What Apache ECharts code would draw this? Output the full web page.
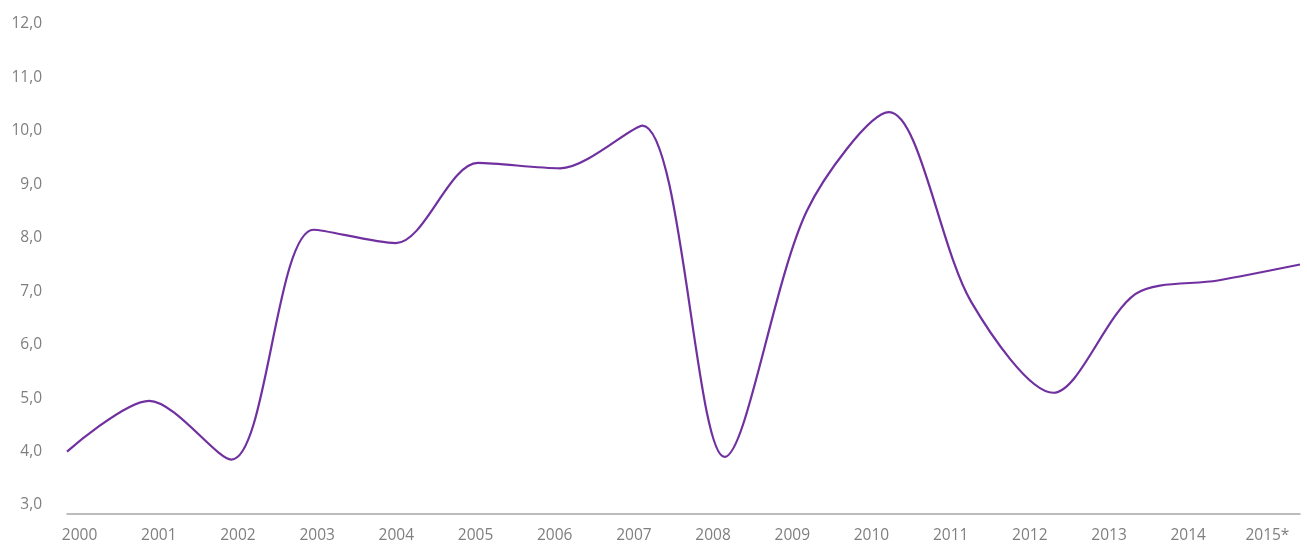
<!DOCTYPE html>
<html>
<head>
<meta charset="utf-8">
<script src="https://cdn.jsdelivr.net/npm/echarts@6/dist/echarts.min.js"></script>
<style>
html,body{margin:0;padding:0;background:#fff;}
#chart{width:1307px;height:544px;}
</style>
</head>
<body>
<div id="chart"></div>
<script>
const categories = ['2000','2001','2002','2003','2004','2005','2006','2007','2008','2009','2010','2011','2012','2013','2014','2015*'];
const values = [4.0, 4.95, 3.85, 8.15, 7.9, 9.4, 9.3, 10.1, 3.9, 8.5, 10.35, 6.8, 5.1, 6.95, 7.2, 7.5];
const yMin = 3, yMax = 12, yStep = 1;

const FONT = '"Open Sans", "Liberation Sans", sans-serif';
const GRAY = '#7f7f7f';

const chart = echarts.init(document.getElementById('chart'), null, {renderer: 'canvas'});
chart.setOption({
  animation: false,
  backgroundColor: '#ffffff',
  grid: [
    {left: 67, right: 7, top: 24, bottom: 39, containLabel: false},
    {left: 40, right: -13, top: 24, bottom: 39, containLabel: false}
  ],
  xAxis: [
    {
      type: 'category', gridIndex: 0, data: categories, boundaryGap: false,
      offset: 9,
      axisLine: {show: true, lineStyle: {color: '#a6a6a6', width: 1.5}},
      axisTick: {show: false},
      axisLabel: {show: false},
      splitLine: {show: false}
    },
    {
      type: 'category', gridIndex: 1, data: categories, boundaryGap: true,
      offset: 9,
      axisLine: {show: false},
      axisTick: {show: false},
      axisLabel: {show: true, interval: 0, margin: 15, color: GRAY, fontSize: 15.5, fontFamily: FONT},
      splitLine: {show: false}
    }
  ],
  yAxis: [
    {
      type: 'value', gridIndex: 0, min: yMin, max: yMax, interval: yStep,
      axisLine: {show: false}, axisTick: {show: false}, splitLine: {show: false},
      axisLabel: {
        margin: 25, color: GRAY, fontSize: 15.5, fontFamily: FONT,
        formatter: v => v.toFixed(1).replace('.', ',')
      }
    },
    {
      type: 'value', gridIndex: 1, min: yMin, max: yMax, show: false
    }
  ],
  series: [{
    type: 'line',
    xAxisIndex: 0, yAxisIndex: 0,
    data: values,
    smooth: 0.3,
    showSymbol: false,
    symbol: 'none',
    lineStyle: {color: '#7030a0', width: 2.2}
  }]
});
</script>
</body>
</html>
